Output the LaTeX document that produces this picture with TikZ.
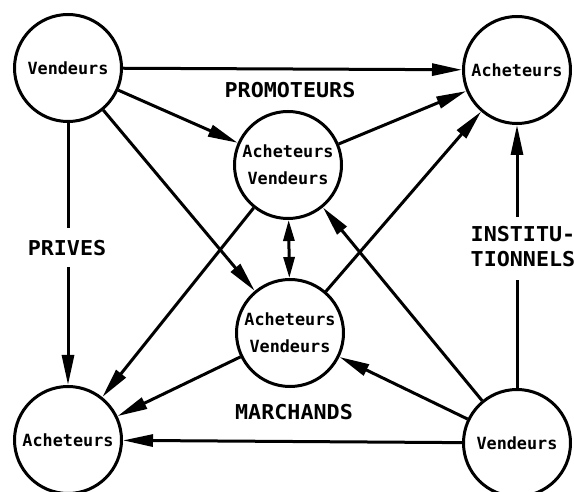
\documentclass[tikz,border=0pt]{standalone}
\usepackage{fontspec}
\newfontfamily\plotfont{DejaVu Sans Mono}
\newfontfamily\labfont[FakeStretch=1.06]{DejaVu Sans Mono}
\usetikzlibrary{arrows.meta}
\begin{document}
\begin{tikzpicture}[x=1pt,y=-1pt,
  circ/.style={draw, circle, line width=3pt, minimum size=107pt, inner sep=0pt, align=center,
    font=\plotfont\bfseries\fontsize{16.8}{27}\selectfont},
  conn/.style={line width=3pt, -{Triangle[length=30pt,width=12pt]}},
  dconn/.style={line width=3pt, {Triangle[length=21pt,width=11pt]}-{Triangle[length=21pt,width=11pt]}},
  seg/.style={line width=3pt},
  lab/.style={font=\labfont\bfseries\fontsize{20.5}{25}\selectfont, inner sep=0pt, align=center}
]
\fill[white] (0,0) rectangle (574,492);
\useasboundingbox (0,0) rectangle (574,492);

\node[circ] (tl) at (68,68) {Vendeurs};
\node[circ] (tr) at (517,70) {Acheteurs};
\node[circ] (cu) at (288,165) {Acheteurs\\Vendeurs};
\node[circ] (cl) at (290,333) {Acheteurs\\Vendeurs};
\node[circ] (bl) at (68,440) {Acheteurs};
\node[circ] (br) at (517,443) {Vendeurs};

\node[lab] (promo) at (290,90.5) {PROMOTEURS};
\node[lab] (march) at (294,412) {MARCHANDS};
\node[lab] (priv) at (67,248) {PRIVES};
\node[lab] (inst) at (523,247) {INSTITU-\\TIONNELS};

\coordinate (p1) at (68,228);
\coordinate (p2) at (68,267);
\coordinate (q1) at (517,280);
\coordinate (q2) at (517,217);

\draw[seg] (tl) -- (p1);
\draw[conn] (p2) -- (bl);
\draw[seg] (br) -- (q1);
\draw[conn] (q2) -- (tr);

\draw[conn] (tl) -- (tr);
\draw[conn] (tl) -- (cu);
\draw[conn] (tl) -- (cl);
\draw[conn] (cu) -- (tr);
\draw[dconn] (cu) -- (cl);
\draw[conn] (cu) -- (bl);
\draw[conn] (cl) -- (tr);
\draw[conn] (cl) -- (bl);
\draw[conn] (br) -- (cu);
\draw[conn] (br) -- (cl);
\draw[conn] (br) -- (bl);
\end{tikzpicture}
\end{document}
